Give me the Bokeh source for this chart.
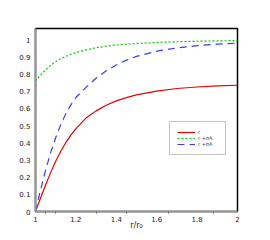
from bokeh.plotting import figure
from bokeh.models import Range1d, Legend, LegendItem, FixedTicker
from bokeh.embed import file_html
from bokeh.resources import INLINE

x_vals = [1.0, 1.025, 1.05, 1.075, 1.1, 1.125, 1.15, 1.175, 1.2, 1.25, 1.3, 1.35, 1.4, 1.45, 1.5, 1.6, 1.7, 1.8, 1.9, 2.0]
r_vals = [0.0, 0.078, 0.154, 0.226, 0.292, 0.350, 0.400, 0.444, 0.482, 0.543, 0.585, 0.618, 0.643, 0.662, 0.678, 0.700, 0.715, 0.724, 0.730, 0.734]
plus_vals = [0.757, 0.793, 0.824, 0.850, 0.871, 0.888, 0.902, 0.914, 0.924, 0.940, 0.952, 0.961, 0.968, 0.973, 0.977, 0.983, 0.987, 0.990, 0.992, 0.994]
blue_vals = [0.0, 0.125, 0.24, 0.342, 0.43, 0.505, 0.568, 0.620, 0.663, 0.722, 0.775, 0.818, 0.852, 0.880, 0.902, 0.932, 0.951, 0.964, 0.973, 0.979]

x_ticks = [1, 1.2, 1.4, 1.6, 1.8, 2]
x_minor = [1.05, 1.1, 1.3, 1.45, 1.66, 1.88]
y_ticks = [0, 0.1, 0.2, 0.3, 0.4, 0.5, 0.6, 0.7, 0.8, 0.9, 1]
legend_labels = ["r", "r +σA", "r +σA"]
x_title = "r/r₀"

p = figure(width=262, height=232, output_backend="svg", toolbar_location=None,
           x_range=Range1d(1, 2), y_range=Range1d(0, 1.064),
           min_border_left=35, min_border_right=25, min_border_top=28, min_border_bottom=20)
p.outline_line_color = "black"
p.outline_line_width = 1.5
p.grid.visible = False
p.background_fill_color = "white"
p.border_fill_color = "white"

for ax in (p.xaxis[0], p.yaxis[0]):
    ax.axis_line_color = "#999999"
    ax.axis_line_width = 2
    ax.major_tick_line_color = None
    ax.major_tick_out = 0
    ax.major_tick_in = 0
    ax.minor_tick_line_color = "#666666"
    ax.minor_tick_out = 2
    ax.minor_tick_in = 0
    ax.major_label_text_font = "DejaVu Sans"
    ax.major_label_text_font_size = "7px"
    ax.major_label_text_color = "#222222"
    ax.major_label_standoff = 2

p.xaxis.ticker = FixedTicker(ticks=x_ticks, minor_ticks=x_minor)
p.yaxis.ticker = FixedTicker(ticks=y_ticks, minor_ticks=[])
p.yaxis.major_label_standoff = 5
p.xaxis.major_label_overrides = {1: "1", 2: "2"}
p.yaxis.major_label_overrides = {0: "0", 1: "1"}
p.xaxis.axis_label = x_title
p.xaxis.axis_label_text_font = "DejaVu Sans"
p.xaxis.axis_label_text_font_size = "8px"
p.xaxis.axis_label_text_font_style = "normal"
p.xaxis.axis_label_text_color = "#222222"
p.xaxis.axis_label_standoff = -4

l1 = p.line(x_vals, r_vals, line_color="#e60000", line_width=1.2)
l2 = p.line(x_vals, plus_vals, line_color="#00cc00", line_width=1.2, line_dash="2 2")
l3 = p.line(x_vals, blue_vals, line_color="#3a3aff", line_width=1.2, line_dash="7 5")

legend = Legend(items=[LegendItem(label=legend_labels[0], renderers=[l1]),
                       LegendItem(label=legend_labels[1], renderers=[l2]),
                       LegendItem(label=legend_labels[2], renderers=[l3])],
                location=(134, 56), glyph_width=18, glyph_height=6, label_height=6,
                spacing=0, padding=7, label_standoff=3,
                label_text_font_size="5px", label_text_font="DejaVu Sans",
                border_line_color="#888888", border_line_width=1.2,
                background_fill_color="white", background_fill_alpha=1)
p.add_layout(legend, "center")

open("out.html", "w").write(file_html(p, INLINE))
